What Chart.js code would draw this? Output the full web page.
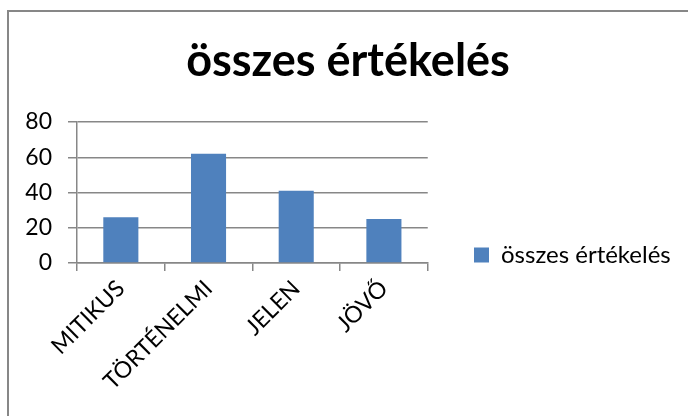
<!DOCTYPE html>
<html><head><meta charset="utf-8">
<script src="https://cdn.jsdelivr.net/npm/chart.js@4"></script>
<style>
html,body{margin:0;padding:0;background:#fff;}
#wrap{position:relative;width:688px;height:416px;overflow:hidden;}
#frame{position:absolute;left:7px;top:10px;width:700px;height:420px;border-left:2px solid #878787;border-top:2px solid #878787;pointer-events:none;}
canvas{position:absolute;left:0;top:0;}
</style></head><body>
<div id="wrap"><canvas id="c" width="688" height="416"></canvas><div id="frame"></div></div>
<script>
const categories = ["MITIKUS", "TÖRTÉNELMI", "JELEN", "JÖVŐ"];
const seriesName = "összes értékelés";
const values = [26, 62, 41, 25];
const yTicks = [0, 20, 40, 60, 80];
const FONT = "Lato, 'Open Sans', sans-serif";
const placeBlocks = {
  id: 'placeBlocks',
  afterLayout(chart) {
    const lg = chart.legend;
    lg.left = 464; lg.right = 688; lg.width = 224;
    const dy = 30;
    lg.top += dy; lg.bottom += dy;
    const t = chart.titleBlock;
    const tdx = 348 - (t.left + t.right) / 2;
    t.left += tdx; t.right += tdx;
  }
};
new Chart(document.getElementById('c'), {
  type: 'bar',
  data: { labels: categories, datasets: [{ label: seriesName, data: values, backgroundColor: '#4f81bd', borderWidth: 0, categoryPercentage: 0.4, barPercentage: 1 }] },
  options: {
    responsive: false, animation: false,
    layout: { padding: { left: 10, right: 121, top: 34, bottom: 0 } },
    plugins: {
      title: { display: true, text: seriesName, color: '#000', font: { family: FONT, size: 45, weight: 'bold', lineHeight: 1.2 }, padding: { top: 0, bottom: 34 } },
      legend: { position: 'right', labels: { color: '#000', font: { family: FONT, size: 24 }, boxWidth: 15, boxHeight: 15, padding: 10 } },
      tooltip: { enabled: false }
    },
    scales: {
      x: { offset: true,
        afterFit: s => { s.height = 153; },
        grid: { offset: true, drawOnChartArea: false, drawTicks: true, tickLength: 8, color: '#878787', lineWidth: 1.5 },
        border: { color: '#878787', width: 1.5 },
        ticks: { color: '#000', font: { family: FONT, size: 23 }, maxRotation: 45, minRotation: 45, padding: 4 } },
      y: { min: 0, max: 80,
        afterFit: s => { s.width = 67; },
        afterBuildTicks: a => { a.ticks = yTicks.map(v => ({ value: v })); },
        grid: { color: '#878787', lineWidth: 1.5, tickLength: 9 },
        border: { color: '#878787', width: 1.5 },
        ticks: { color: '#000', font: { family: FONT, size: 23 }, padding: 16 } }
    }
  },
  plugins: [placeBlocks]
});
</script></body></html>
